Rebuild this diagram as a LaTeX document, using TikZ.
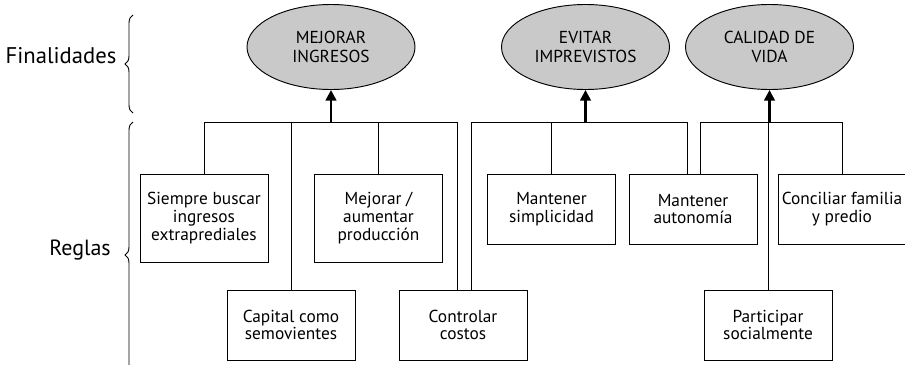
\documentclass[tikz,border=0pt]{standalone}
\usepackage{fontspec}
\setmainfont{PT Sans}
\usepackage{tikz}
\usetikzlibrary{arrows.meta,positioning,calc,shapes.geometric}
\usetikzlibrary{decorations.pathreplacing}
\definecolor{goalgray}{HTML}{C9C9C9}
\tikzset{goal/.style={ellipse,draw=black,fill=goalgray,line width=0.7pt,
  minimum width=126pt,minimum height=63.75pt,inner sep=0pt,align=center,
  font=\fontsize{13}{14}\selectfont}}
\tikzset{rulebox/.style={rectangle,draw=black,line width=0.7pt,
  minimum width=96pt,minimum height=52.5pt,inner sep=2pt,align=center,
  font=\fontsize{13}{13.3}\selectfont}}
\tikzset{tallbox/.style={rulebox,minimum height=66pt}}
\tikzset{link/.style={line width=0.7pt}}
\tikzset{lift/.style={-{Triangle[width=8pt,length=8pt]},line width=1.8pt}}
\tikzset{curly/.style={decorate,decoration={brace,amplitude=6pt},line width=0.7pt}}

\begin{document}
\begin{tikzpicture}[x=0.75pt,y=-0.75pt]
\useasboundingbox (0,0) rectangle (905,364);
% \draw[help lines,step=50] (0,0) grid (905,364);
\node (fin) [anchor=base,font=\fontsize{17}{18}\selectfont] at (61,63) {Finalidades};
\node (reg) [anchor=base,font=\fontsize{16.5}{18}\selectfont] at (80,255) {Reglas};
\draw[curly] (133,113) -- (133,15);
\draw[curly] (133,388) -- (133,122);
%
\node (mejorar) [goal] at (331,47) {MEJORAR\\INGRESOS};
\node (evitar) [goal] at (585.5,47) {EVITAR\\IMPREVISTOS};
\node (calidad) [goal] at (769.5,47) {CALIDAD DE\\VIDA};
%
\node (siempre) [tallbox] at (204,218) {Siempre buscar\\ingresos\\extraprediales};
\node (produccion) [tallbox] at (378.5,218) {Mejorar /\\aumentar\\producción};
\node (simple) [rulebox] at (551.5,209) {Mantener\\simplicidad};
\node (autonomia) [rulebox] at (693,209) {Mantener\\autonomía};
\node (conciliar) [rulebox] at (842,209) {Conciliar familia\\y predio};
\node (capital) [rulebox] at (291,325) {Capital como\\semovientes};
\node (costos) [rulebox] at (463,325) {Controlar\\costos};
\node (participar) [rulebox] at (768,325) {Participar\\socialmente};
%
\coordinate (bar) at (0,122);
\coordinate (jm) at (mejorar |- bar);
\coordinate (je) at (evitar |- bar);
\coordinate (jc) at (calidad |- bar);
%
\draw[link] (siempre.north) |- (jm);
\draw[link] (capital.north) |- (jm);
\draw[link] (produccion.north) |- (jm);
\draw[link] ($(costos.north)+(-6,0)$) |- (jm);
\draw[link] ($(costos.north)+(8,0)$) |- (je);
\draw[link] (simple.north) |- (je);
\draw[link] ($(autonomia.north)+(-6,0)$) |- (je);
\draw[link] ($(autonomia.north)+(7,0)$) |- (jc);
\draw[link] (participar.north) |- (jc);
\draw[link] (conciliar.north) |- (jc);
%
\draw[lift] (jm) -- (mejorar);
\draw[lift] (je) -- (evitar);
\draw[lift] (jc) -- (calidad);
\end{tikzpicture}
\end{document}
